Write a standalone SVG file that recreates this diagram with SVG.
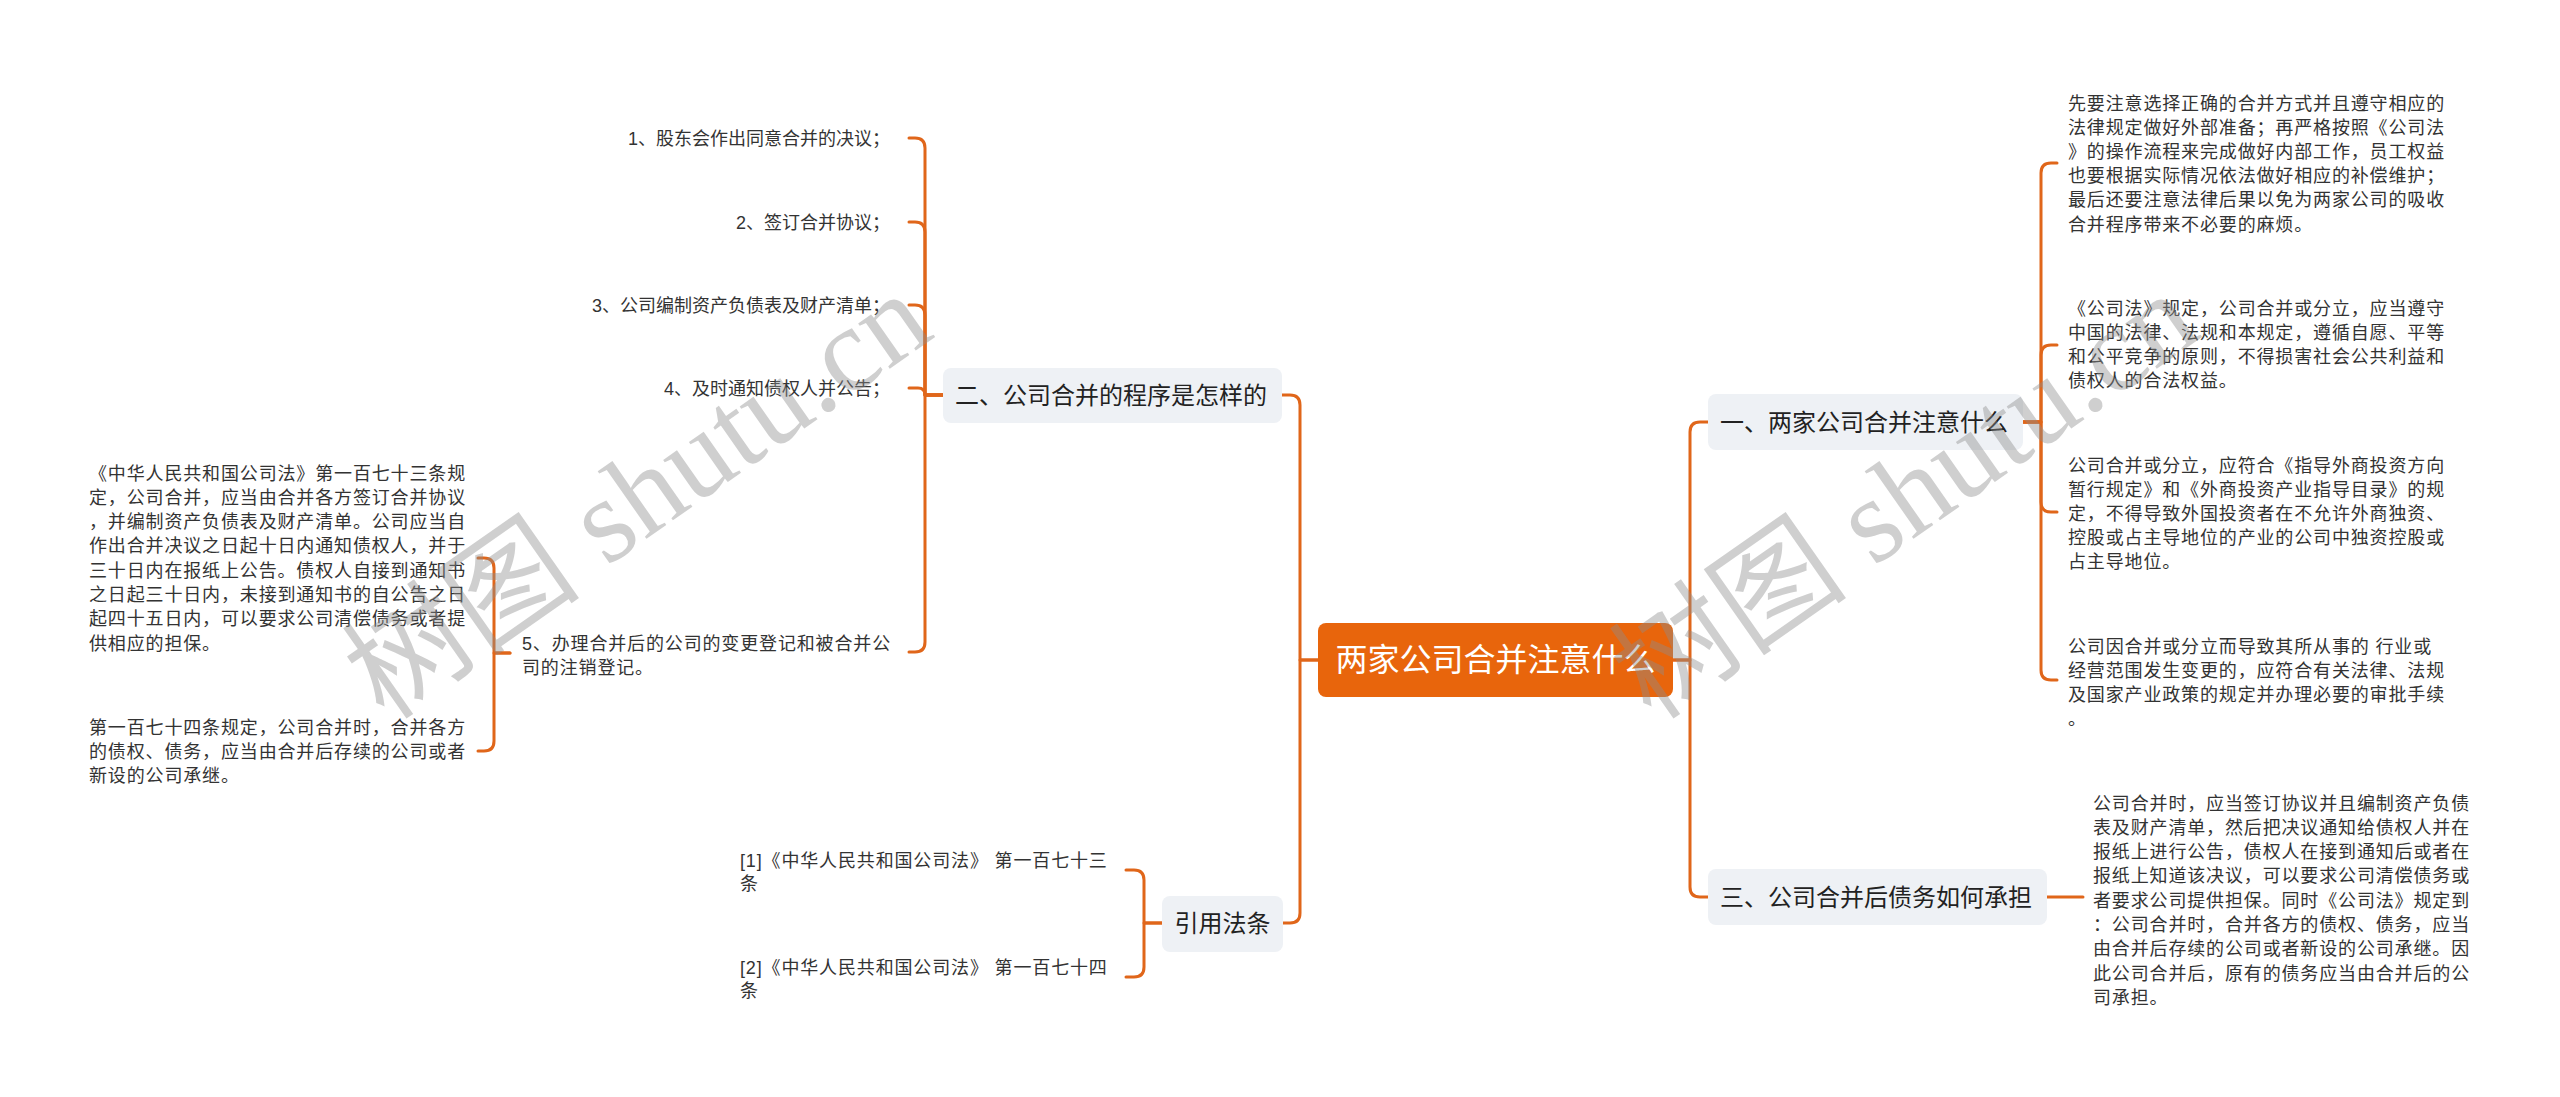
<svg xmlns="http://www.w3.org/2000/svg" width="2560" height="1097" viewBox="0 0 2560 1097">
<style>
.conn{fill:none;stroke:#E0661A;stroke-width:3;stroke-linecap:round;stroke-linejoin:round}
text{font-family:"Liberation Sans","Noto Sans CJK SC",sans-serif}
.lbl{font-size:18px;fill:#333}
.para{font-size:18px;fill:#333;letter-spacing:0.85px}
.n1 rect{fill:#EEF1F5}
.n1 text{font-size:24px;fill:#222}
.root rect{fill:#E8650C}
.root text{font-size:32px;fill:#fff}
.wm{font-family:"Liberation Serif","Noto Sans CJK SC",serif;font-size:120px;fill:#8c8c8c;fill-opacity:0.42}
</style>
<rect width="2560" height="1097" fill="#fff"/>
<g id="connectors">
<path class="conn" d="M1318,660 H1300 V405 Q1300,395 1290,395 H1282"/>
<path class="conn" d="M1318,660 H1300 V913 Q1300,923 1290,923 H1283"/>
<path class="conn" d="M1673,660 H1690 V432 Q1690,422 1700,422 H1708"/>
<path class="conn" d="M1673,660 H1690 V887 Q1690,897 1700,897 H1708"/>
<path class="conn" d="M943,395 H925 V148 Q925,138 915,138 H909"/>
<path class="conn" d="M943,395 H925 V232 Q925,222 915,222 H909"/>
<path class="conn" d="M943,395 H925 V315 Q925,305 915,305 H909"/>
<path class="conn" d="M943,395 H925 Q925,388 918,388 H909"/>
<path class="conn" d="M943,395 H925 V642 Q925,652 915,652 H909"/>
<path class="conn" d="M510,653 H494 V568 Q494,558 484,558 H478"/>
<path class="conn" d="M510,653 H494 V741 Q494,751 484,751 H478"/>
<path class="conn" d="M1162,923 H1144 V880 Q1144,870 1134,870 H1126"/>
<path class="conn" d="M1162,923 H1144 V967 Q1144,977 1134,977 H1126"/>
<path class="conn" d="M2023,422 H2041 V173 Q2041,163 2051,163 H2057"/>
<path class="conn" d="M2023,422 H2041 V355 Q2041,345 2051,345 H2057"/>
<path class="conn" d="M2023,422 H2041 V502 Q2041,512 2051,512 H2057"/>
<path class="conn" d="M2023,422 H2041 V670 Q2041,680 2051,680 H2057"/>
<path class="conn" d="M2047,897 H2083"/>
</g>
<g id="root" class="root">
<rect x="1318" y="623" width="355" height="74" rx="8"/>
<text x="1495.5" y="671" text-anchor="middle">两家公司合并注意什么</text>
</g>
<g id="b2" class="n1">
<rect x="943" y="368" width="339" height="55" rx="8"/>
<text x="955" y="404">二、公司合并的程序是怎样的</text>
</g>
<g id="b4" class="n1">
<rect x="1162" y="896" width="121" height="56" rx="8"/>
<text x="1222.5" y="932" text-anchor="middle">引用法条</text>
</g>
<g id="b1" class="n1">
<rect x="1708" y="394" width="315" height="56" rx="8"/>
<text x="1720" y="430.5">一、两家公司合并注意什么</text>
</g>
<g id="b3" class="n1">
<rect x="1708" y="869" width="339" height="56" rx="8"/>
<text x="1720" y="905.5">三、公司合并后债务如何承担</text>
</g>
<g id="s2-1"><text class="lbl" x="890" y="144.5" text-anchor="end">1、股东会作出同意合并的决议；</text></g>
<g id="s2-2"><text class="lbl" x="890" y="228.5" text-anchor="end">2、签订合并协议；</text></g>
<g id="s2-3"><text class="lbl" x="890" y="311.5" text-anchor="end">3、公司编制资产负债表及财产清单；</text></g>
<g id="s2-4"><text class="lbl" x="890" y="394.5" text-anchor="end">4、及时通知债权人并公告；</text></g>
<g id="s2-5"><text class="para" x="522"><tspan x="522" y="649.5">5、办理合并后的公司的变更登记和被合并公</tspan><tspan x="522" y="673.5">司的注销登记。</tspan></text></g>
<g id="s2-5-1"><text class="para" x="89">
<tspan x="89" y="479.5">《中华人民共和国公司法》第一百七十三条规</tspan>
<tspan x="89" y="503.8">定，公司合并，应当由合并各方签订合并协议</tspan>
<tspan x="89" y="528.1">，并编制资产负债表及财产清单。公司应当自</tspan>
<tspan x="89" y="552.4">作出合并决议之日起十日内通知债权人，并于</tspan>
<tspan x="89" y="576.7">三十日内在报纸上公告。债权人自接到通知书</tspan>
<tspan x="89" y="601">之日起三十日内，未接到通知书的自公告之日</tspan>
<tspan x="89" y="625.3">起四十五日内，可以要求公司清偿债务或者提</tspan>
<tspan x="89" y="649.6">供相应的担保。</tspan>
</text></g>
<g id="s2-5-2"><text class="para" x="89">
<tspan x="89" y="733.5">第一百七十四条规定，公司合并时，合并各方</tspan>
<tspan x="89" y="757.8">的债权、债务，应当由合并后存续的公司或者</tspan>
<tspan x="89" y="782.1">新设的公司承继。</tspan>
</text></g>
<g id="s4-1"><text class="para" x="740"><tspan x="740" y="866.5">[1]《中华人民共和国公司法》 第一百七十三</tspan><tspan x="740" y="890">条</tspan></text></g>
<g id="s4-2"><text class="para" x="740"><tspan x="740" y="973.5">[2]《中华人民共和国公司法》 第一百七十四</tspan><tspan x="740" y="997">条</tspan></text></g>
<g id="s1-1"><text class="para" x="2068">
<tspan x="2068" y="109.5">先要注意选择正确的合并方式并且遵守相应的</tspan>
<tspan x="2068" y="133.7">法律规定做好外部准备；再严格按照《公司法</tspan>
<tspan x="2068" y="157.9">》的操作流程来完成做好内部工作，员工权益</tspan>
<tspan x="2068" y="182.1">也要根据实际情况依法做好相应的补偿维护；</tspan>
<tspan x="2068" y="206.3">最后还要注意法律后果以免为两家公司的吸收</tspan>
<tspan x="2068" y="230.5">合并程序带来不必要的麻烦。</tspan>
</text></g>
<g id="s1-2"><text class="para" x="2068">
<tspan x="2068" y="314.5">《公司法》规定，公司合并或分立，应当遵守</tspan>
<tspan x="2068" y="338.7">中国的法律、法规和本规定，遵循自愿、平等</tspan>
<tspan x="2068" y="362.9">和公平竞争的原则，不得损害社会公共利益和</tspan>
<tspan x="2068" y="387.1">债权人的合法权益。</tspan>
</text></g>
<g id="s1-3"><text class="para" x="2068">
<tspan x="2068" y="471.5">公司合并或分立，应符合《指导外商投资方向</tspan>
<tspan x="2068" y="495.7">暂行规定》和《外商投资产业指导目录》的规</tspan>
<tspan x="2068" y="519.9">定，不得导致外国投资者在不允许外商独资、</tspan>
<tspan x="2068" y="544.1">控股或占主导地位的产业的公司中独资控股或</tspan>
<tspan x="2068" y="568.3">占主导地位。</tspan>
</text></g>
<g id="s1-4"><text class="para" x="2068">
<tspan x="2068" y="652.5">公司因合并或分立而导致其所从事的 行业或</tspan>
<tspan x="2068" y="676.7">经营范围发生变更的，应符合有关法律、法规</tspan>
<tspan x="2068" y="700.9">及国家产业政策的规定并办理必要的审批手续</tspan>
<tspan x="2068" y="725.1">。</tspan>
</text></g>
<g id="s3-1"><text class="para" x="2093">
<tspan x="2093" y="809.5">公司合并时，应当签订协议并且编制资产负债</tspan>
<tspan x="2093" y="833.8">表及财产清单，然后把决议通知给债权人并在</tspan>
<tspan x="2093" y="858.1">报纸上进行公告，债权人在接到通知后或者在</tspan>
<tspan x="2093" y="882.4">报纸上知道该决议，可以要求公司清偿债务或</tspan>
<tspan x="2093" y="906.7">者要求公司提供担保。同时《公司法》规定到</tspan>
<tspan x="2093" y="931">：公司合并时，合并各方的债权、债务，应当</tspan>
<tspan x="2093" y="955.3">由合并后存续的公司或者新设的公司承继。因</tspan>
<tspan x="2093" y="979.6">此公司合并后，原有的债务应当由合并后的公</tspan>
<tspan x="2093" y="1003.9">司承担。</tspan>
</text></g>
<g id="watermark">
<text class="wm" transform="translate(385,722) rotate(-35)">树图 shutu.cn</text>
<text class="wm" transform="translate(1652,722) rotate(-35)">树图 shutu.cn</text>
</g>
</svg>
